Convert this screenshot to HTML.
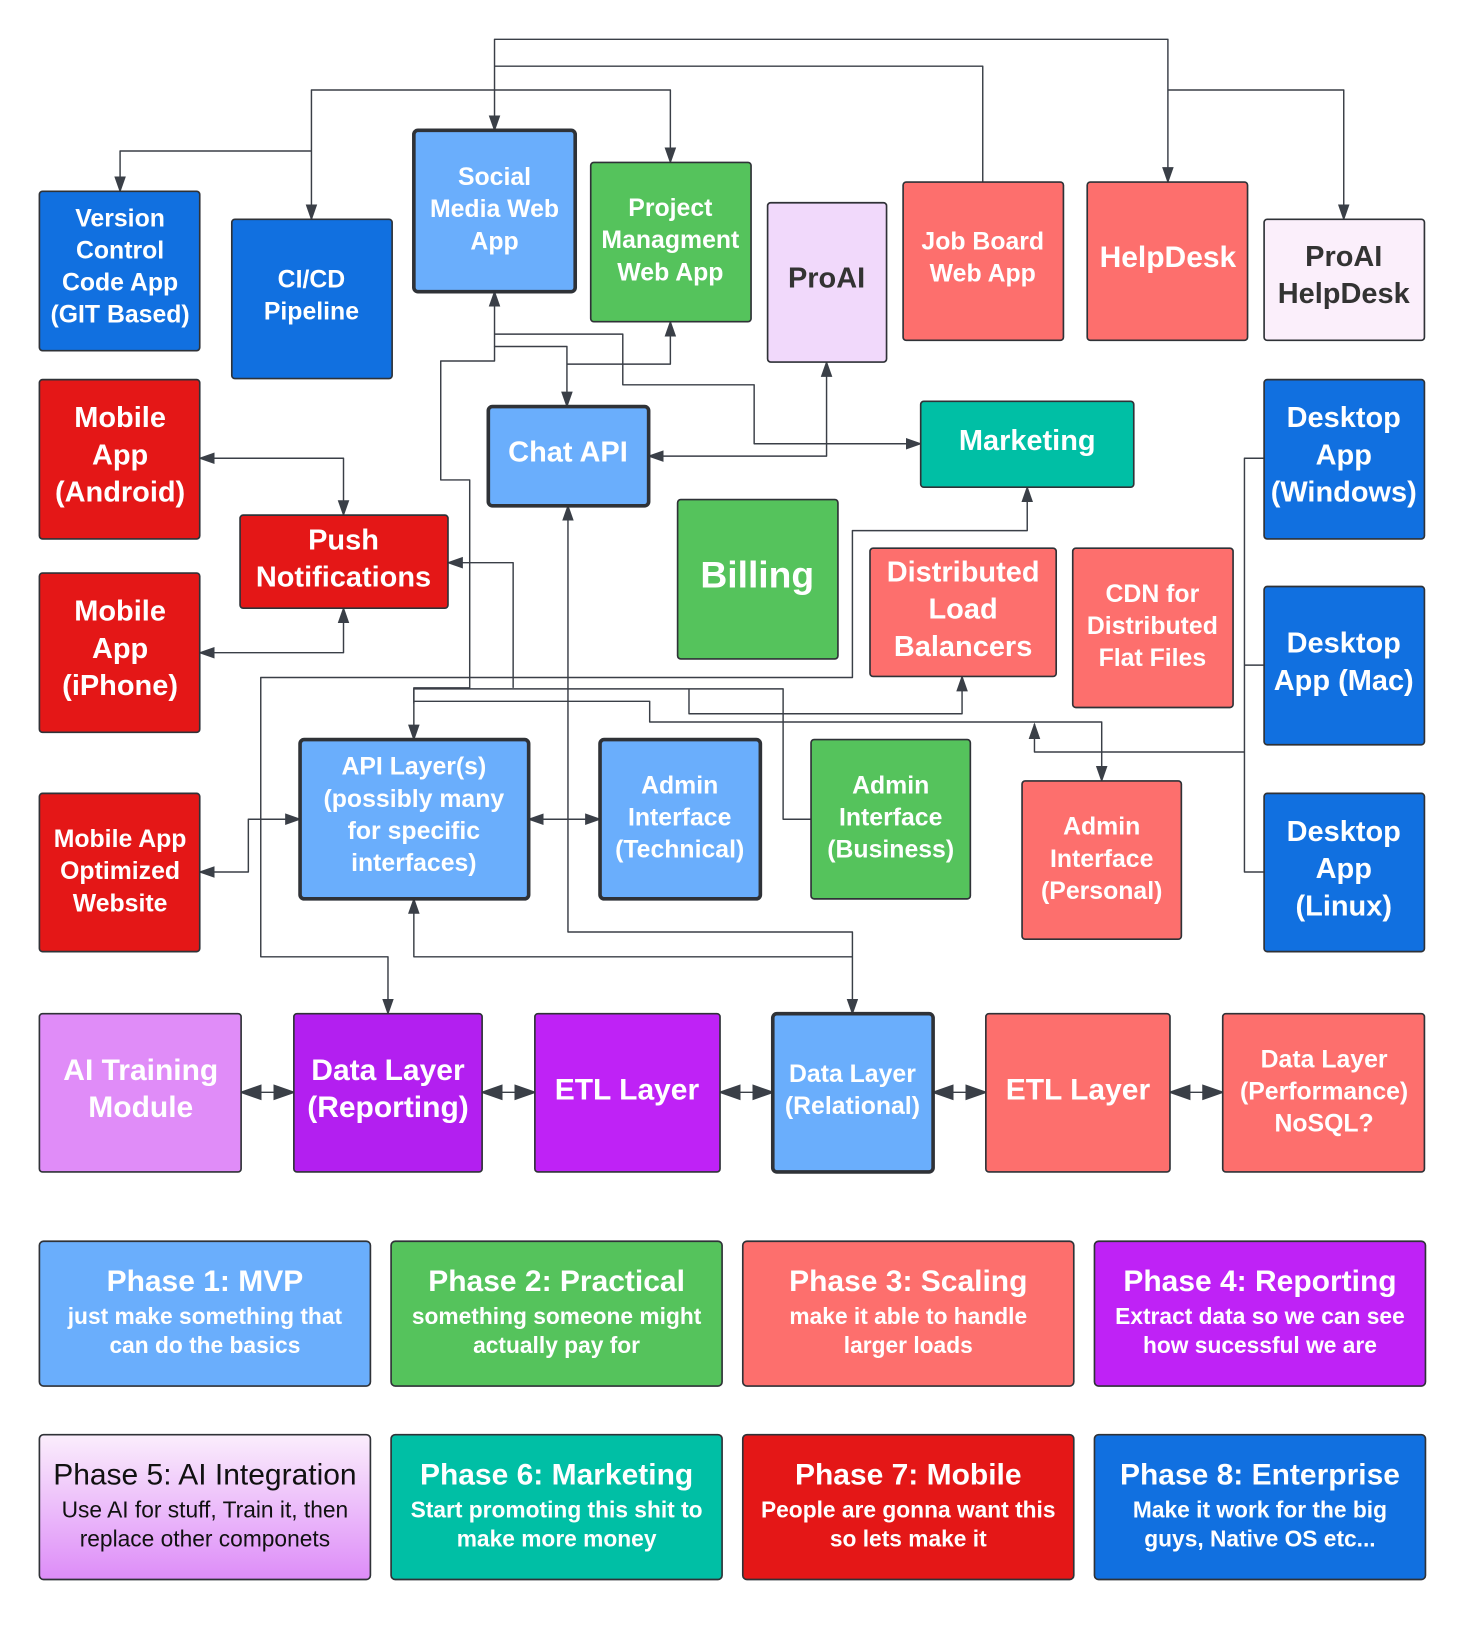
<!DOCTYPE html>
<html><head><meta charset="utf-8"><style>
html,body{margin:0;padding:0;background:#fff;}
svg{display:block;}
text{font-family:"Liberation Sans",sans-serif;font-weight:bold;text-anchor:middle;}
.w{fill:#fff;}
.k{fill:#333;}
.n text{font-weight:normal;}
.ln{fill:none;stroke:#3a3f47;stroke-width:1.4;stroke-linejoin:round;}
</style></head><body>
<svg width="1469" height="1625" viewBox="0 0 1420 1571" xmlns="http://www.w3.org/2000/svg">
<defs>
<marker id="b" viewBox="0 0 10 10" refX="9" refY="5" markerWidth="16" markerHeight="16" orient="auto-start-reverse" markerUnits="userSpaceOnUse"><path d="M0,1.5 L10,5 L0,8.5z" fill="#3a3f47"/></marker>
<marker id="c" viewBox="0 0 10 10" refX="9" refY="5" markerWidth="22" markerHeight="22" orient="auto-start-reverse" markerUnits="userSpaceOnUse"><path d="M0,1.5 L10,5 L0,8.5z" fill="#3a3f47"/></marker>
<linearGradient id="g5" x1="0" y1="0" x2="0" y2="1"><stop offset="0" stop-color="#fbeefc"/><stop offset="1" stop-color="#dd8cf8"/></linearGradient>
</defs>
<g class="ln">
<path d="M478,126 V38 H1129 V176" marker-start="url(#b)" marker-end="url(#b)"/>
<path d="M950,176 V64 H478"/>
<path d="M301,212 V87 H648 V157" marker-start="url(#b)" marker-end="url(#b)"/>
<path d="M301,146 H116 V185" marker-end="url(#b)"/>
<path d="M1129,87 H1299 V212" marker-end="url(#b)"/>
<path d="M478,282 V335 H548 V393" marker-start="url(#b)" marker-end="url(#b)"/>
<path d="M548,352 H648 V311" marker-end="url(#b)"/>
<path d="M478,323 H602 V372 H729 V429 H890" marker-end="url(#b)"/>
<path d="M627,441 H799 V350" marker-start="url(#b)" marker-end="url(#b)"/>
<path d="M478,335 V349 H426 V464 H454 V665 H400 V715" marker-end="url(#b)"/>
<path d="M193,443 H332 V498" marker-start="url(#b)" marker-end="url(#b)"/>
<path d="M193,631 H332 V588" marker-start="url(#b)" marker-end="url(#b)"/>
<path d="M433,544 H496 V665" marker-start="url(#b)"/>
<path d="M400,678 H628 V698 H1065 V755" marker-end="url(#b)"/>
<path d="M400,680 V666 H757 V792 H784"/>
<path d="M666,666 V690 H930 V654" marker-end="url(#b)"/>
<path d="M1000,700 V727 H1203" marker-start="url(#b)"/>
<path d="M1222,443 H1203 V843 H1222"/>
<path d="M1203,643 H1222"/>
<path d="M993,471 V513 H824 V655 H252 V925 H375 V980" marker-start="url(#b)" marker-end="url(#b)"/>
<path d="M549,489 V901 H824 V980" marker-start="url(#b)" marker-end="url(#b)"/>
<path d="M400,869 V925 H824" marker-start="url(#b)"/>
<path d="M193,843 H240 V792 H290" marker-start="url(#b)" marker-end="url(#b)"/>
<path d="M511,792 H580" marker-start="url(#b)" marker-end="url(#b)"/>
<path d="M233,1056 H284" marker-start="url(#c)" marker-end="url(#c)"/>
<path d="M466,1056 H517" marker-start="url(#c)" marker-end="url(#c)"/>
<path d="M696,1056 H747" marker-start="url(#c)" marker-end="url(#c)"/>
<path d="M902,1056 H953" marker-start="url(#c)" marker-end="url(#c)"/>
<path d="M1131,1056 H1182" marker-start="url(#c)" marker-end="url(#c)"/>
</g>
<g stroke="#2f3237" stroke-width="1.6">
<rect x="38" y="185" width="155" height="154" rx="3" fill="#1170e0"/>
<rect x="224" y="212" width="155" height="154" rx="3" fill="#1170e0"/>
<rect x="400" y="126" width="156" height="156" rx="4" fill="#6aaefc" stroke-width="3.5"/>
<rect x="571" y="157" width="155" height="154" rx="3" fill="#55c35c"/>
<rect x="742" y="196" width="115" height="154" rx="3" fill="#f1d9fb"/>
<rect x="873" y="176" width="155" height="153" rx="3" fill="#fd6f6d"/>
<rect x="1051" y="176" width="155" height="153" rx="3" fill="#fd6f6d"/>
<rect x="1222" y="212" width="155" height="117" rx="3" fill="#fbeffb"/>
<rect x="38" y="367" width="155" height="154" rx="3" fill="#e41717"/>
<rect x="232" y="498" width="201" height="90" rx="3" fill="#e41717"/>
<rect x="38" y="554" width="155" height="154" rx="3" fill="#e41717"/>
<rect x="472" y="393" width="155" height="96" rx="4" fill="#6aaefc" stroke-width="3.5"/>
<rect x="890" y="388" width="206" height="83" rx="3" fill="#00bfa5"/>
<rect x="655" y="483" width="155" height="154" rx="3" fill="#55c35c"/>
<rect x="841" y="530" width="180" height="124" rx="3" fill="#fd6f6d"/>
<rect x="1037" y="530" width="155" height="154" rx="3" fill="#fd6f6d"/>
<rect x="1222" y="367" width="155" height="154" rx="3" fill="#1170e0"/>
<rect x="1222" y="567" width="155" height="153" rx="3" fill="#1170e0"/>
<rect x="1222" y="767" width="155" height="153" rx="3" fill="#1170e0"/>
<rect x="290" y="715" width="221" height="154" rx="4" fill="#6aaefc" stroke-width="3.5"/>
<rect x="580" y="715" width="155" height="154" rx="4" fill="#6aaefc" stroke-width="3.5"/>
<rect x="784" y="715" width="154" height="154" rx="3" fill="#55c35c"/>
<rect x="988" y="755" width="154" height="153" rx="3" fill="#fd6f6d"/>
<rect x="38" y="767" width="155" height="153" rx="3" fill="#e41717"/>
<rect x="38" y="980" width="195" height="153" rx="3" fill="#e08cf8"/>
<rect x="284" y="980" width="182" height="153" rx="3" fill="#b31ff0"/>
<rect x="517" y="980" width="179" height="153" rx="3" fill="#bf22f6"/>
<rect x="747" y="980" width="155" height="153" rx="4" fill="#6aaefc" stroke-width="3.5"/>
<rect x="953" y="980" width="178" height="153" rx="3" fill="#fd6f6d"/>
<rect x="1182" y="980" width="195" height="153" rx="3" fill="#fd6f6d"/>
<rect x="38" y="1200" width="320" height="140" rx="4" fill="#6aaefc"/>
<rect x="378" y="1200" width="320" height="140" rx="4" fill="#55c35c"/>
<rect x="718" y="1200" width="320" height="140" rx="4" fill="#fd6f6d"/>
<rect x="1058" y="1200" width="320" height="140" rx="4" fill="#bf22f6"/>
<rect x="38" y="1387" width="320" height="140" rx="4" fill="url(#g5)"/>
<rect x="378" y="1387" width="320" height="140" rx="4" fill="#00bfa5"/>
<rect x="718" y="1387" width="320" height="140" rx="4" fill="#e41717"/>
<rect x="1058" y="1387" width="320" height="140" rx="4" fill="#1170e0"/>
</g>
<g class="w" font-size="24">
<text x="116" y="219">Version</text><text x="116" y="250">Control</text><text x="116" y="281">Code App</text><text x="116" y="312">(GIT Based)</text>
<text x="301" y="278">CI/CD</text><text x="301" y="309">Pipeline</text>
<text x="478" y="179">Social</text><text x="478" y="210">Media Web</text><text x="478" y="241">App</text>
<text x="648" y="209">Project</text><text x="648" y="240">Managment</text><text x="648" y="271">Web App</text>
<text x="950" y="241">Job Board</text><text x="950" y="272">Web App</text>
<text x="1129" y="258" font-size="29">HelpDesk</text>
<text x="116" y="413" font-size="28">Mobile</text><text x="116" y="449" font-size="28">App</text><text x="116" y="485" font-size="28">(Android)</text>
<text x="332" y="531" font-size="28">Push</text><text x="332" y="567" font-size="28">Notifications</text>
<text x="116" y="600" font-size="28">Mobile</text><text x="116" y="636" font-size="28">App</text><text x="116" y="672" font-size="28">(iPhone)</text>
<text x="549" y="446" font-size="28">Chat API</text>
<text x="993" y="435" font-size="28">Marketing</text>
<text x="732" y="568" font-size="36">Billing</text>
<text x="931" y="562" font-size="28">Distributed</text><text x="931" y="598" font-size="28">Load</text><text x="931" y="634" font-size="28">Balancers</text>
<text x="1114" y="582">CDN for</text><text x="1114" y="613">Distributed</text><text x="1114" y="644">Flat Files</text>
<text x="1299" y="413" font-size="28">Desktop</text><text x="1299" y="449" font-size="28">App</text><text x="1299" y="485" font-size="28">(Windows)</text>
<text x="1299" y="631" font-size="28">Desktop</text><text x="1299" y="667" font-size="28">App (Mac)</text>
<text x="1299" y="813" font-size="28">Desktop</text><text x="1299" y="849" font-size="28">App</text><text x="1299" y="885" font-size="28">(Linux)</text>
<text x="400" y="749">API Layer(s)</text><text x="400" y="780">(possibly many</text><text x="400" y="811">for specific</text><text x="400" y="842">interfaces)</text>
<text x="657" y="767">Admin</text><text x="657" y="798">Interface</text><text x="657" y="829">(Technical)</text>
<text x="861" y="767">Admin</text><text x="861" y="798">Interface</text><text x="861" y="829">(Business)</text>
<text x="1065" y="807">Admin</text><text x="1065" y="838">Interface</text><text x="1065" y="869">(Personal)</text>
<text x="116" y="819">Mobile App</text><text x="116" y="850">Optimized</text><text x="116" y="881">Website</text>
<text x="136" y="1044" font-size="29">AI Training</text><text x="136" y="1080" font-size="29">Module</text>
<text x="375" y="1044" font-size="29">Data Layer</text><text x="375" y="1080" font-size="29">(Reporting)</text>
<text x="606" y="1063" font-size="29">ETL Layer</text>
<text x="824" y="1046">Data Layer</text><text x="824" y="1077">(Relational)</text>
<text x="1042" y="1063" font-size="29">ETL Layer</text>
<text x="1280" y="1032">Data Layer</text><text x="1280" y="1063">(Performance)</text><text x="1280" y="1094">NoSQL?</text>
</g>
<g class="k" font-size="28">
<text x="799" y="278">ProAI</text>
<text x="1299" y="257">ProAI</text><text x="1299" y="293">HelpDesk</text>
</g>
<g class="w">
<text x="198" y="1248" font-size="29">Phase 1: MVP</text><text x="198" y="1280" font-size="22">just make something that</text><text x="198" y="1308" font-size="22">can do the basics</text>
<text x="538" y="1248" font-size="29">Phase 2: Practical</text><text x="538" y="1280" font-size="22">something someone might</text><text x="538" y="1308" font-size="22">actually pay for</text>
<text x="878" y="1248" font-size="29">Phase 3: Scaling</text><text x="878" y="1280" font-size="22">make it able to handle</text><text x="878" y="1308" font-size="22">larger loads</text>
<text x="1218" y="1248" font-size="29">Phase 4: Reporting</text><text x="1218" y="1280" font-size="22">Extract data so we can see</text><text x="1218" y="1308" font-size="22">how sucessful we are</text>
<text x="538" y="1435" font-size="29">Phase 6: Marketing</text><text x="538" y="1467" font-size="22">Start promoting this shit to</text><text x="538" y="1495" font-size="22">make more money</text>
<text x="878" y="1435" font-size="29">Phase 7: Mobile</text><text x="878" y="1467" font-size="22">People are gonna want this</text><text x="878" y="1495" font-size="22">so lets make it</text>
<text x="1218" y="1435" font-size="29">Phase 8: Enterprise</text><text x="1218" y="1467" font-size="22">Make it work for the big</text><text x="1218" y="1495" font-size="22">guys, Native OS etc...</text>
</g>
<g class="n" fill="#111">
<text x="198" y="1435" font-size="29">Phase 5: AI Integration</text><text x="198" y="1467" font-size="22">Use AI for stuff, Train it, then</text><text x="198" y="1495" font-size="22">replace other componets</text>
</g>
</svg>
</body></html>
